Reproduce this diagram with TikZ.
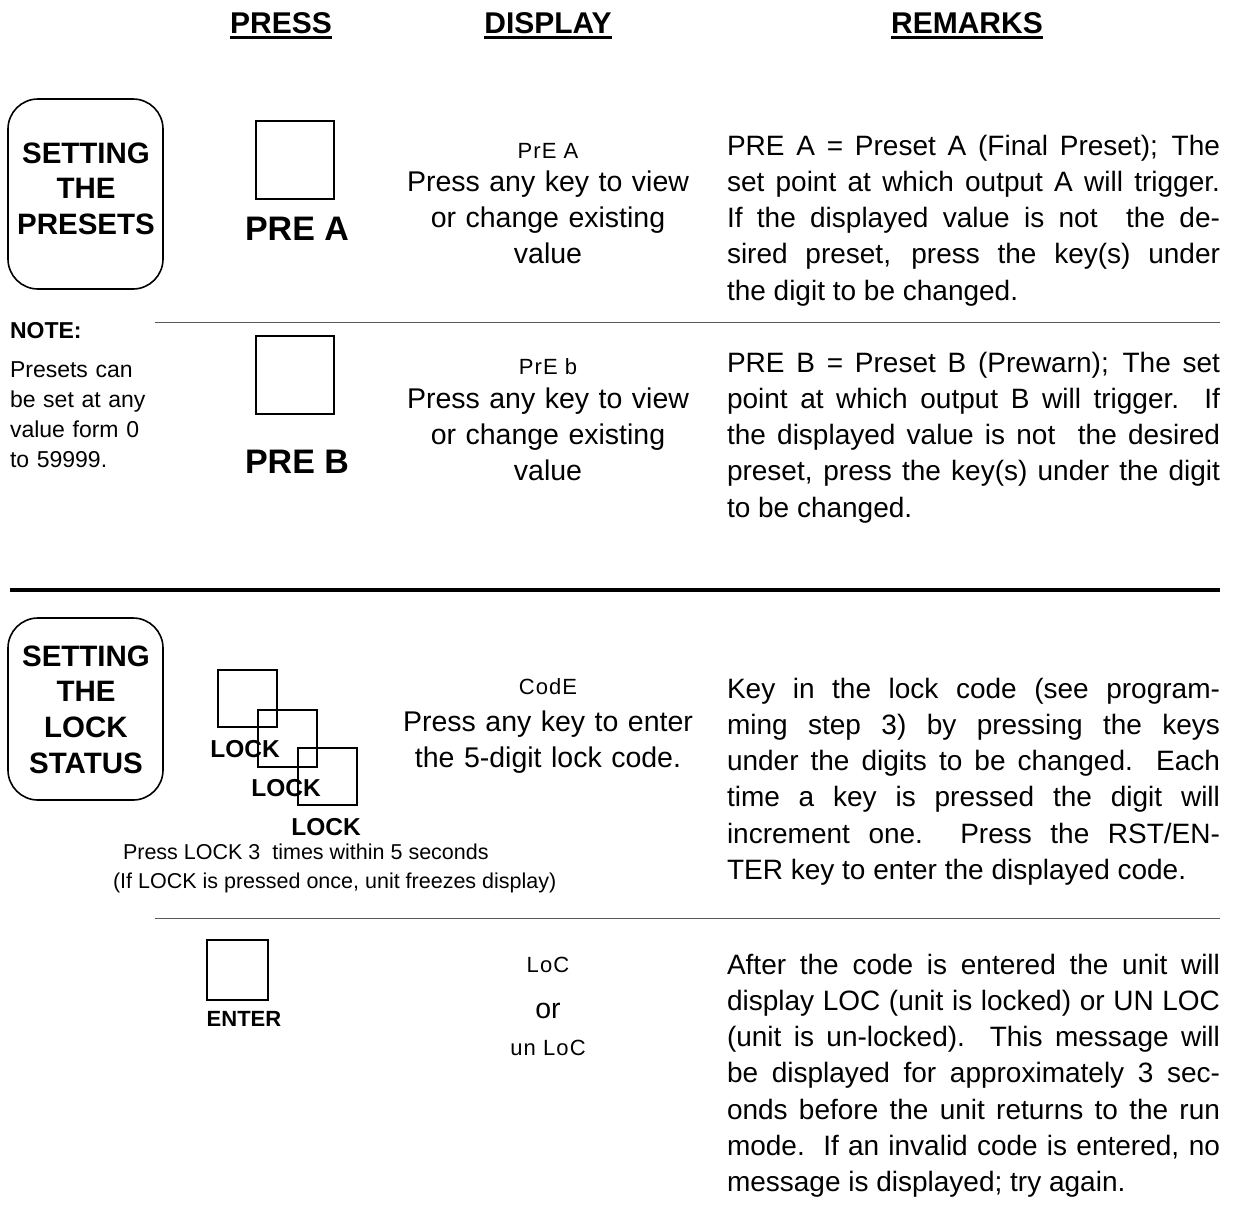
\documentclass[tikz,border=0pt]{standalone}
\usepackage{fontspec}
\setmainfont{Liberation Sans}
\newfontfamily\segfont{Liberation Sans}[LetterSpace=5]
\begin{document}
\begin{tikzpicture}[x=1pt,y=-1pt,
  every node/.style={inner sep=0pt,outer sep=0pt},
  hdr/.style={font=\fontsize{30}{36}\selectfont\bfseries,anchor=base},
  title/.style={font=\fontsize{29.5}{35.8}\selectfont\bfseries,text width=150pt,align=center,anchor=base},
  roundbox/.style={draw,line width=1.6pt,rounded corners=30pt,minimum width=155pt,minimum height=190pt},
  keybox/.style={draw,line width=1.6pt,anchor=north west},
  keylabel/.style={font=\fontsize{34}{40}\selectfont\bfseries,anchor=base},
  locklabel/.style={font=\fontsize{24.5}{30}\selectfont\bfseries,anchor=base},
  seg/.style={font=\fontsize{22}{26}\selectfont\segfont,anchor=base},
  disp/.style={font=\fontsize{28.5}{36}\selectfont,text width=320pt,align=center,anchor=base},
  remark/.style={font=\fontsize{28}{36.3}\selectfont,text width=493pt,align=justify,anchor=base west},
  note/.style={font=\fontsize{23}{30}\selectfont,text width=160pt,align=left,anchor=base west},
  small/.style={font=\fontsize{21.5}{29}\selectfont,anchor=base west},
  thinrule/.style={line width=0.9pt,black!65},
  thickrule/.style={line width=4pt}]
\useasboundingbox (0,0) rectangle (1233,1205);

% headers
\node[hdr] (hpress) at (281,33) {PRESS};
\node[hdr] (hdisp) at (548,33) {DISPLAY};
\node[hdr] (hrem) at (967,33) {REMARKS};
\foreach \h in {hpress,hdisp,hrem}
  \draw[line width=2.4pt] ([yshift=-4.5pt]\h.base west) -- ([yshift=-4.5pt]\h.base east);

% ---------- section 1: presets ----------
\node[roundbox] (setpre) at (85.5,194) {};
\node[title] (setpretext) at (86,163) {SETTING\\THE\\PRESETS};

\node[keybox,minimum width=78pt,minimum height=78pt] (keyA) at (256,121) {};
\node[keylabel] (labA) at (297,240) {PRE A};
\node[seg] (segA) at (548,158) {PrE A};
\node[disp] (dispA) at (548,191) {Press any key to view\\or change existing\\value};
\node[remark] (remA) at (727,155) {\tolerance=10000
PRE A = Preset A (Final Preset); The\linebreak
set point at which output A will trigger.\linebreak
If the displayed value is not\ \ the de-\linebreak
sired preset, press the key(s) under\linebreak
the digit to be changed.};

\coordinate (r1a) at (155,322);
\coordinate (r1b) at (1220,322);
\draw[thinrule] (r1a) -- (r1b);

\node[note] (note) at (10,338) {\bfseries NOTE:};
\node[note] (notetext) at (10,377) {Presets can\\be set at any\\value form 0\\to 59999.};

\node[keybox,minimum width=78pt,minimum height=78pt] (keyB) at (256,336) {};
\node[keylabel] (labB) at (297,473) {PRE B};
\node[seg] (segB) at (548,374) {PrE b};
\node[disp] (dispB) at (548,408) {Press any key to view\\or change existing\\value};
\node[remark] (remB) at (727,372) {\tolerance=10000
PRE B = Preset B (Prewarn); The set\linebreak
point at which output B will trigger.\ \ If\linebreak
the displayed value is not\ \ the desired\linebreak
preset, press the key(s) under the digit\linebreak
to be changed.};

\coordinate (r2a) at (10,590);
\coordinate (r2b) at (1220,590);
\draw[thickrule] (r2a) -- (r2b);

% ---------- section 2: lock status ----------
\node[roundbox,minimum height=182pt] (setlock) at (85.5,709) {};
\node[title] (setlocktext) at (86,666) {SETTING\\THE\\LOCK\\STATUS};

\node[keybox,minimum width=59pt,minimum height=57pt] (lock1) at (218,670) {};
\node[keybox,minimum width=59pt,minimum height=57pt] (lock2) at (258,710) {};
\node[keybox,minimum width=59pt,minimum height=57pt] (lock3) at (298,748) {};
\node[locklabel] (lockl1) at (245,757) {LOCK};
\node[locklabel] (lockl2) at (286,796) {LOCK};
\node[locklabel] (lockl3) at (326,835) {LOCK};
\node[small] (lockhint1) at (123,859) {Press LOCK 3\ \ times within 5 seconds};
\node[small] (lockhint2) at (113,888) {(If LOCK is pressed once, unit freezes display)};

\node[seg] (segC) at (548,694) {CodE};
\node[disp] (dispC) at (548,731) {Press any key to enter\\the 5-digit lock code.};
\node[remark] (remC) at (727,698) {\tolerance=10000\parfillskip=0pt
Key in the lock code (see program-\linebreak
ming step 3) by pressing the keys\linebreak
under the digits to be changed. Each\linebreak
time a key is pressed the digit will\linebreak
increment one.\ \ Press the RST/EN-\linebreak
TER key to enter the displayed code.};

\coordinate (r3a) at (155,918);
\coordinate (r3b) at (1220,918);
\draw[thinrule] (r3a) -- (r3b);

\node[keybox,minimum width=61pt,minimum height=60pt] (keyE) at (207,940) {};
\node[locklabel,font=\fontsize{22}{26}\selectfont\bfseries] (labE) at (244,1026) {ENTER};
\node[seg] (segL) at (548,972) {LoC};
\node[disp] (dispOr) at (548,1018) {or};
\node[seg] (segU) at (548,1055) {un LoC};
\node[remark] (remE) at (727,974) {\tolerance=10000
After the code is entered the unit will\linebreak
display LOC (unit is locked) or UN LOC\linebreak
(unit is un-locked).\ \ This message will\linebreak
be displayed for approximately 3 sec-\linebreak
onds before the unit returns to the run\linebreak
mode.\ \ If an invalid code is entered, no\linebreak
message is displayed; try again.};
\end{tikzpicture}
\end{document}
